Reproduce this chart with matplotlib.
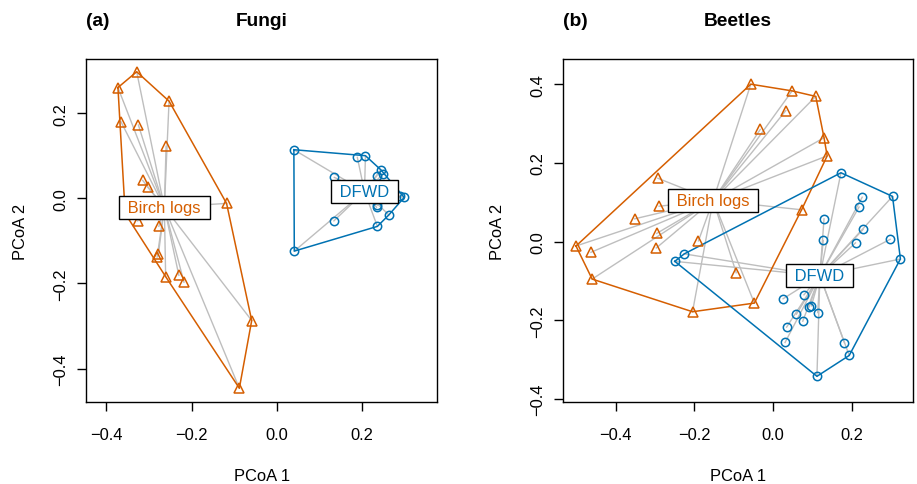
import matplotlib
matplotlib.use("Agg")
import matplotlib.pyplot as plt
import numpy as np

plt.rcParams["font.family"] = ["Liberation Sans", "DejaVu Sans"]
plt.rcParams["font.size"] = 11.9

# PCoA scores
fungi_birch_x = [-0.329, -0.373, -0.253, -0.366, -0.325, -0.260, -0.315, -0.303, -0.118, -0.327,
                 -0.277, -0.278, -0.281, -0.261, -0.230, -0.218, -0.059, -0.088, -0.356]
fungi_birch_y = [0.297, 0.260, 0.228, 0.180, 0.172, 0.122, 0.042, 0.026, -0.012, -0.053,
                 -0.066, -0.131, -0.138, -0.184, -0.181, -0.197, -0.287, -0.446, -0.036]
fungi_dfwd_x = [0.040, 0.189, 0.208, 0.135, 0.244, 0.250, 0.235, 0.299, 0.289, 0.236,
                0.234, 0.263, 0.236, 0.134, 0.041, 0.260]
fungi_dfwd_y = [0.114, 0.096, 0.100, 0.049, 0.067, 0.057, 0.053, 0.002, 0.005, -0.016,
                -0.021, -0.039, -0.066, -0.053, -0.124, 0.025]

beetle_birch_x = [-0.057, 0.048, 0.108, 0.032, -0.033, 0.129, 0.137, -0.293, 0.072, -0.352,
                  -0.296, -0.190, -0.501, -0.463, -0.297, -0.460, -0.205, -0.048, -0.094, -0.290]
beetle_birch_y = [0.400, 0.383, 0.369, 0.333, 0.285, 0.264, 0.218, 0.161, 0.081, 0.058,
                  0.021, 0.002, -0.011, -0.027, -0.016, -0.095, -0.178, -0.156, -0.079, 0.090]
beetle_dfwd_x = [0.303, 0.226, 0.218, 0.129, 0.228, 0.297, 0.127, 0.209, 0.323, 0.025,
                 0.078, 0.091, 0.097, 0.113, 0.059, 0.075, 0.034, 0.030, 0.181, 0.193,
                 0.111, 0.172, -0.226, -0.250]
beetle_dfwd_y = [0.115, 0.113, 0.088, 0.058, 0.031, 0.006, 0.003, -0.003, -0.044, -0.145,
                 -0.135, -0.166, -0.163, -0.180, -0.184, -0.202, -0.217, -0.256, -0.257, -0.289,
                 -0.342, 0.175, -0.031, -0.050]

group_names = ["Birch logs", "DFWD"]
group_colors = ["#D55E00", "#0072B2"]
group_markers = ["^", "o"]


def convex_hull(pts):
    pts = sorted(map(tuple, pts))

    def cross(o, a, b):
        return (a[0] - o[0]) * (b[1] - o[1]) - (a[1] - o[1]) * (b[0] - o[0])

    lower, upper = [], []
    for p in pts:
        while len(lower) >= 2 and cross(lower[-2], lower[-1], p) <= 0:
            lower.pop()
        lower.append(p)
    for p in reversed(pts):
        while len(upper) >= 2 and cross(upper[-2], upper[-1], p) <= 0:
            upper.pop()
        upper.append(p)
    hull = lower[:-1] + upper[:-1]
    hull.append(hull[0])
    return np.array(hull)


def draw_panel(ax, groups):
    for (xs, ys), name, col, mk in zip(groups, group_names, group_colors, group_markers):
        xs, ys = np.array(xs), np.array(ys)
        cx, cy = xs.mean(), ys.mean()
        for x, y in zip(xs, ys):
            ax.plot([cx, x], [cy, y], color="#BEBEBE", lw=1, zorder=1)
        h = convex_hull(np.column_stack([xs, ys]))
        ax.plot(h[:, 0], h[:, 1], color=col, lw=1.1, zorder=2)
        ax.plot(xs, ys, ls="none", marker=mk, ms=6.8 if mk == "^" else 6,
                mfc="none", mec=col, mew=1.1, zorder=3)
        ax.text(cx, cy, " " + name + " ", color=col, ha="center", va="center", zorder=5,
                bbox=dict(boxstyle="square,pad=0.25", fc="white", ec="black", lw=1))


fig = plt.figure(figsize=(9.17, 4.85), dpi=100)
W, H = 917, 485

def make_axes(x0, x1, y0, y1):
    return fig.add_axes([x0 / W, 1 - y1 / H, (x1 - x0) / W, (y1 - y0) / H])

ax1 = make_axes(86, 437, 60, 403.3)
ax2 = make_axes(563, 913, 60, 403.3)

draw_panel(ax1, [(fungi_birch_x, fungi_birch_y), (fungi_dfwd_x, fungi_dfwd_y)])
draw_panel(ax2, [(beetle_birch_x, beetle_birch_y), (beetle_dfwd_x, beetle_dfwd_y)])

ax1.set_xlim(-0.448, 0.376)
ax1.set_ylim(-0.479, 0.327)
ax1.set_xticks([-0.4, -0.2, 0.0, 0.2])
ax1.set_yticks([-0.4, -0.2, 0.0, 0.2])

ax2.set_xlim(-0.534, 0.355)
ax2.set_ylim(-0.408, 0.464)
ax2.set_xticks([-0.4, -0.2, 0.0, 0.2])
ax2.set_yticks([-0.4, -0.2, 0.0, 0.2, 0.4])

for ax, title, tag in [(ax1, "Fungi", "(a)"), (ax2, "Beetles", "(b)")]:
    for s in ax.spines.values():
        s.set_linewidth(1)
    ax.tick_params(axis="both", direction="out", length=6.5, width=1)
    ax.tick_params(axis="x", pad=11)
    ax.tick_params(axis="y", pad=6.5, labelrotation=90)
    for lab in ax.get_yticklabels():
        lab.set_va("center")
    ax.set_xlabel("PCoA 1")
    ax.set_ylabel("PCoA 2")
    ax.xaxis.set_label_coords(0.5, -0.19)
    ax.yaxis.set_label_coords(-0.165, 0.5)
    pos = ax.get_position()
    fig.text(pos.x0 + pos.width / 2, 1 - 26 / H, title, ha="center", va="baseline",
             fontsize=13.8, fontweight="bold")
    fig.text(pos.x0, 1 - 26 / H, tag, ha="left", va="baseline",
             fontsize=13.8, fontweight="bold")

fig.savefig("out.png", dpi=100)
